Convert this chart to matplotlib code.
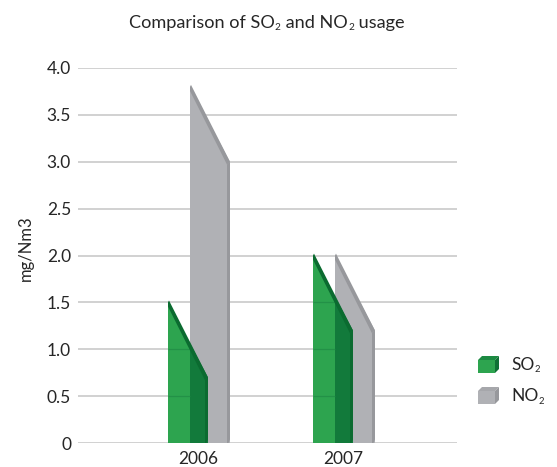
import matplotlib
matplotlib.use("Agg")
import matplotlib.pyplot as plt
import numpy as np
from matplotlib.patches import Polygon

plt.rcParams['font.family'] = ['Lato', 'DejaVu Sans']

years = ['2006', '2007']
so2_high = [1.5, 2.0]
so2_low = [0.7, 1.2]
no2_high = [3.8, 2.0]
no2_low = [3.0, 1.2]
y_ticks = [0, 0.5, 1.0, 1.5, 2.0, 2.5, 3.0, 3.5, 4.0]
y_tick_labels = ['0', '0.5', '1.0', '1.5', '2.0', '2.5', '3.0', '3.5', '4.0']

W, H = 557, 467
PX = 145.0  # pixels per category
front = 22 / PX
side = 18 / PX
edge = 3 / PX
TXT = '#262626'


def draw_bar(ax, left, high, low, c_front, c_side, c_top, c_edge, z):
    right = left + front + side
    mid = left + front
    mid_val = high + (low - high) * front / (front + side)
    ax.add_patch(Polygon([(left, 0), (left, high), (mid, mid_val), (mid, 0)],
                         fc=c_front, ec='none', zorder=z))
    ax.add_patch(Polygon([(mid, 0), (mid, mid_val), (right, low), (right, 0)],
                         fc=c_side, ec='none', zorder=z))
    # right edge with a small rounded foot
    ax.add_patch(Polygon([(right - edge, 0), (right - edge, low - 0.03), (right, low),
                          (right, 0.04), (right - edge / 2, 0)],
                         fc=c_edge, ec='none', zorder=z + 0.1))
    # slanted top strip
    ax.add_patch(Polygon([(left, high), (left + edge / 3, high + 0.02), (right, low),
                          (right - edge, low - 0.03), (left, high - 0.045)],
                         fc=c_top, ec='none', zorder=z + 0.2))


def runs(x, y, parts, size):
    # text with small subscripts, placed piece by piece from left pixel x
    r = fig.canvas.get_renderer()
    for s, is_sub in parts:
        t = fig.text(x / W, 1 - (y + (2.5 if is_sub else 0)) / H, s, ha='left', va='baseline',
                     fontsize=size * 0.55 if is_sub else size, color=TXT)
        x += t.get_window_extent(r).width + (0.5 if is_sub else 0)
    return x


fig = plt.figure(figsize=(W / 100, H / 100), dpi=100)
ax = fig.add_axes([78 / W, 1 - 443 / H, 379 / W, 375 / H])

ax.set_xlim((78 - 198) / PX, (457 - 198) / PX)
ax.set_ylim(0, 4)
ax.set_yticks(y_ticks)
ax.set_yticklabels(y_tick_labels, fontsize=12.5, color=TXT)
ax.set_xticks(range(len(years)))
ax.set_xticklabels(years, fontsize=12.5, color=TXT)
ax.tick_params(length=0, axis='y', pad=5)
ax.tick_params(length=0, axis='x', pad=6)
ax.grid(axis='y', color='#C9CACA', lw=1.2, zorder=0)
ax.set_axisbelow(True)
for s in ax.spines.values():
    s.set_visible(False)
ax.set_ylabel('mg/Nm3', fontsize=12, color=TXT, labelpad=9, y=0.52)

for i in range(len(years)):
    draw_bar(ax, i - 8 / PX, no2_high[i], no2_low[i],
             '#B0B1B5', '#B0B1B5', '#97989C', '#97989C', 2)
    draw_bar(ax, i - 30 / PX, so2_high[i], so2_low[i],
             '#2DA44F', '#127A3B', '#0B6B30', '#0B6B30', 3)

# gridlines faintly through the green bars
for v in y_ticks[1:]:
    for i in range(len(years)):
        if v < so2_high[i]:
            x0 = i - 30 / PX
            ax.plot([x0, x0 + front], [v, v], color='#1F8A45', lw=0.9, alpha=0.7,
                    zorder=3.05, solid_capstyle='butt')

runs(129, 28, [('Comparison of SO', False), ('2', True), (' and NO', False), ('2', True),
               (' usage', False)], 13.1)


def legend_box(x, y, c_front, c_top, c_side, sym):
    pts = lambda p: [(a / W, 1 - b / H) for a, b in p]
    fig.add_artist(Polygon(pts([(x, y + 4), (x + 17, y + 4), (x + 17, y + 17), (x, y + 17)]),
                           fc=c_front, ec='none', transform=fig.transFigure))
    fig.add_artist(Polygon(pts([(x, y + 4), (x + 4, y), (x + 21, y), (x + 17, y + 4)]),
                           fc=c_top, ec='none', transform=fig.transFigure))
    fig.add_artist(Polygon(pts([(x + 17, y + 4), (x + 21, y), (x + 21, y + 13), (x + 17, y + 17)]),
                           fc=c_side, ec='none', transform=fig.transFigure))
    runs(x + 33, y + 14, [(sym, False), ('2', True)], 12.5)


legend_box(478, 356, '#2DA44F', '#1C8A42', '#0F7035', 'SO')
legend_box(478, 387, '#B0B1B5', '#A6A7AB', '#97989C', 'NO')

fig.savefig('out.png', dpi=100)
